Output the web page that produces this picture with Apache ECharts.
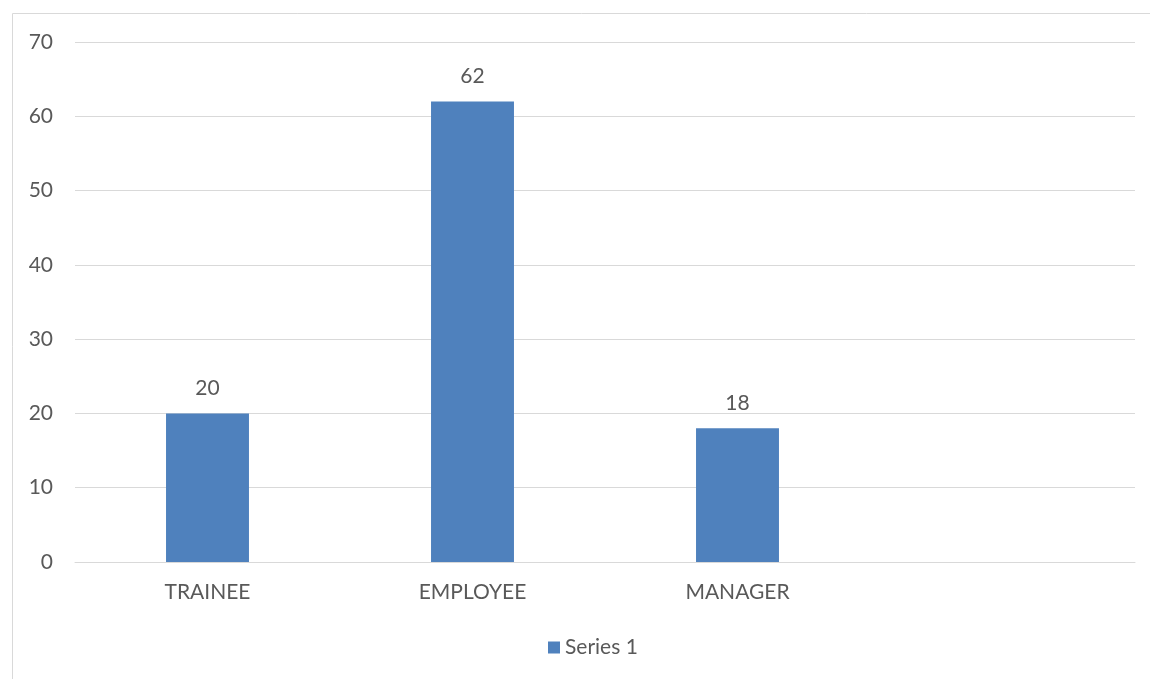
<!DOCTYPE html>
<html>
<head>
<meta charset="utf-8">
<script src="https://cdn.jsdelivr.net/npm/echarts@6/dist/echarts.min.js"></script>
<style>
  html, body { margin: 0; padding: 0; background: #fff; }
  #chart { width: 1150px; height: 679px; }
</style>
</head>
<body>
<div id="chart"></div>
<script>
// data
const categories = ["TRAINEE", "EMPLOYEE", "MANAGER", ""];
const seriesValues = [20, 62, 18, null];
const seriesName = "Series 1";

const chart = echarts.init(document.getElementById("chart"), null, { renderer: "canvas" });

const textColor = "#595959";
const fontFamily = "Lato, 'Open Sans', sans-serif";
const fontSize = 21;

const option = {
  animation: false,
  textStyle: { fontFamily: fontFamily },
  graphic: [
    {
      type: "rect",
      shape: { x: 12.5, y: 13.5, width: 1200, height: 700 },
      style: { fill: "none", stroke: "#d9d9d9", lineWidth: 1 },
      silent: true,
    },
  ],
  grid: {
    left: 75,
    right: 15,
    top: 42,
    bottom: 117,
  },
  legend: {
    data: [seriesName],
    top: 632,
    left: 543,
    itemWidth: 12,
    itemHeight: 12,
    itemGap: 10,
    icon: "rect",
    textStyle: { color: textColor, fontSize: fontSize, fontFamily: fontFamily, padding: [0, 0, 0, 0] },
  },
  xAxis: {
    type: "category",
    data: categories,
    axisLine: { show: true, lineStyle: { color: "#d9d9d9", width: 1 } },
    axisTick: { show: false },
    axisLabel: {
      color: textColor,
      fontSize: fontSize,
      margin: 20,
      interval: 0,
      fontFamily: fontFamily,
    },
  },
  yAxis: {
    type: "value",
    min: 0,
    max: 70,
    interval: 10,
    axisLine: { show: false },
    axisTick: { show: false },
    splitLine: { lineStyle: { color: "#d9d9d9", width: 1 } },
    axisLabel: {
      color: textColor,
      fontSize: fontSize,
      margin: 22,
      fontFamily: fontFamily,
    },
  },
  series: [
    {
      name: seriesName,
      type: "bar",
      data: seriesValues,
      barWidth: "31.3%",
      itemStyle: { color: "#4f81bd" },
      label: {
        show: true,
        position: "top",
        distance: 15,
        color: textColor,
        fontSize: fontSize,
        fontFamily: fontFamily,
      },
    },
  ],
};

chart.setOption(option);
</script>
</body>
</html>
